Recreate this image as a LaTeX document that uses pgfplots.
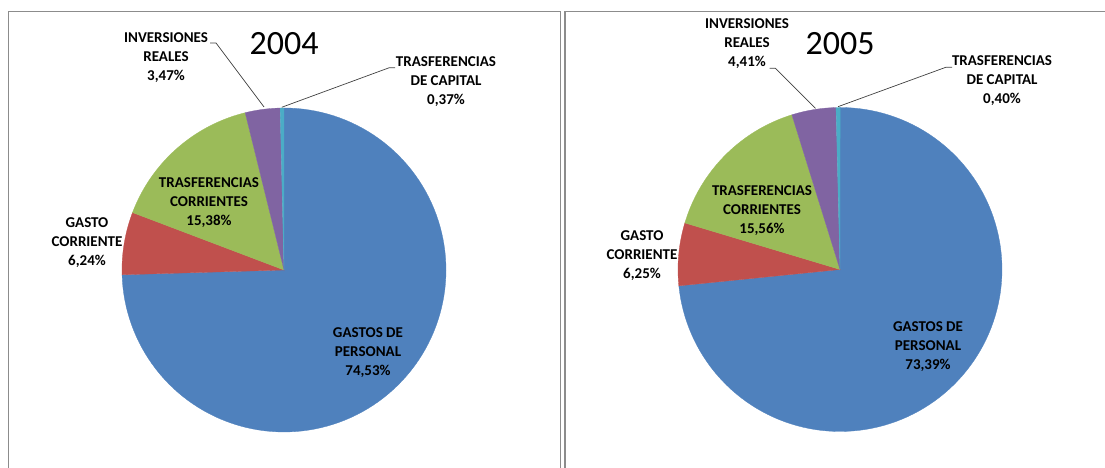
\documentclass[border=0pt]{standalone}
\usepackage{fontspec}
\setmainfont{Carlito}
\usepackage{pgfplots}
\pgfplotsset{compat=1.18}
\definecolor{cBlue}{HTML}{4F81BD}
\definecolor{cRed}{HTML}{C0504D}
\definecolor{cGreen}{HTML}{9BBB59}
\definecolor{cPurple}{HTML}{8064A2}
\definecolor{cCyan}{HTML}{4BACC6}
\definecolor{frame}{HTML}{8C8C8C}
% slice: #1 cumulative start (%), #2 value (%), #3 colour
\newcommand{\pieslice}[3]{%
  \addplot[fill=#3, draw=#3, line width=0.3pt, samples=120, variable=\t,
    domain={90-3.6*(#1+#2)}:{90-3.6*(#1)}]
    ({cos(\t)},{sin(\t)}) -- (axis cs:0,0) -- cycle;}
\tikzset{lbl/.style={font=\fontsize{15bp}{19bp}\selectfont\bfseries, align=center, inner sep=0pt, anchor=center},
         ttl/.style={font=\fontsize{34bp}{40bp}\selectfont, inner sep=0pt, anchor=center},
         lead/.style={draw=black!75, line width=0.7bp}}
\begin{document}
\begin{tikzpicture}[x=1bp,y=1bp]
\path[use as bounding box] (0,0) rectangle (1105,468);
% panel frames
\draw[frame, line width=1.2bp] (8.7,-3) -- (8.7,456.3) -- (560.7,456.3) -- (560.7,-3);
\draw[frame, line width=1.2bp] (565,-3) -- (565,456.3) -- (1108,456.3);
% 2004
\begin{axis}[at={(284bp,198bp)}, anchor=center, x=162bp, y=162bp,
  xmin=-1, xmax=1, ymin=-1, ymax=1, hide axis, clip=false]
\pieslice{0}{74.53}{cBlue}
\pieslice{74.53}{6.24}{cRed}
\pieslice{80.77}{15.38}{cGreen}
\pieslice{96.15}{3.47}{cPurple}
\pieslice{99.62}{0.37}{cCyan}
\end{axis}
% 2005
\begin{axis}[at={(840bp,198.5bp)}, anchor=center, x=162bp, y=162bp,
  xmin=-1, xmax=1, ymin=-1, ymax=1, hide axis, clip=false]
\pieslice{0}{73.39}{cBlue}
\pieslice{73.39}{6.25}{cRed}
\pieslice{79.64}{15.56}{cGreen}
\pieslice{95.20}{4.41}{cPurple}
\pieslice{99.61}{0.40}{cCyan}
\end{axis}
% titles
\node[ttl] at (284,424) {2004};
\node[ttl] at (840,424) {2005};
% leader lines
\draw[lead] (210,425) -- (216,425) -- (264,361);
\draw[lead] (395,400.3) -- (389.3,400.3) -- (281.7,360.7);
\draw[lead] (769.6,399.7) -- (775.5,399.7) -- (815.5,359.7);
\draw[lead] (952,400.7) -- (945.8,400.7) -- (838,361.3);
% labels 2004
\node[lbl] at (166,410) {INVERSIONES\\REALES\\3,47\%};
\node[lbl] at (446,386) {TRASFERENCIAS\\DE CAPITAL\\0,37\%};
\node[lbl] at (209,265) {TRASFERENCIAS\\CORRIENTES\\15,38\%};
\node[lbl] at (87,225) {GASTO\\CORRIENTE\\6,24\%};
\node[lbl] at (368,115) {GASTOS DE\\PERSONAL\\74,53\%};
% labels 2005
\node[lbl] at (747,424) {INVERSIONES\\REALES\\4,41\%};
\node[lbl] at (1002,387) {TRASFERENCIAS\\DE CAPITAL\\0,40\%};
\node[lbl] at (762,257) {TRASFERENCIAS\\CORRIENTES\\15,56\%};
\node[lbl] at (642,212) {GASTO\\CORRIENTE\\6,25\%};
\node[lbl] at (928,121) {GASTOS DE\\PERSONAL\\73,39\%};
\end{tikzpicture}
\end{document}
